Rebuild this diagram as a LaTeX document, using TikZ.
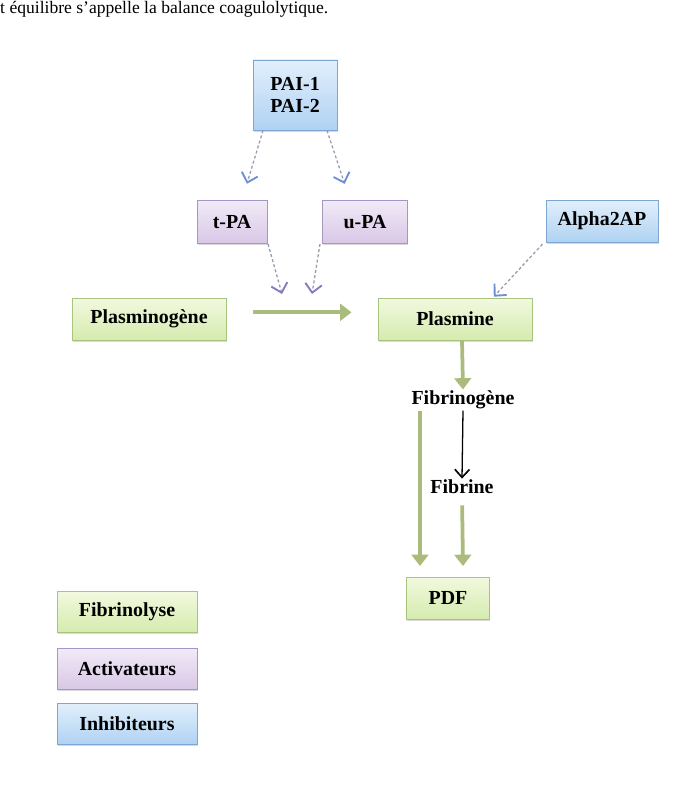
\documentclass[tikz,border=0pt]{standalone}
\usepackage{fontspec}
\setmainfont{Liberation Serif}
\usepackage{xcolor}
\usepackage{tikz}
\usetikzlibrary{
  arrows.meta,
  positioning,
  shadows,
  calc
}
\definecolor{FibTop}{HTML}{F2F9DF}
\definecolor{FibBottom}{HTML}{D5EBAE}
\definecolor{FibLine}{HTML}{A9C47E}
\definecolor{ActTop}{HTML}{F1EAF7}
\definecolor{ActBottom}{HTML}{D8C7E6}
\definecolor{ActLine}{HTML}{A696C2}
\definecolor{InhTop}{HTML}{E2EFFB}
\definecolor{InhBottom}{HTML}{AFD2F3}
\definecolor{InhLine}{HTML}{7EA6D2}
\definecolor{ArrowGreen}{HTML}{AABB7C}
\definecolor{DashGray}{HTML}{9A9AAE}
\definecolor{TipBlue}{HTML}{6F8FD3}
\definecolor{TipPurple}{HTML}{8878C2}
\tikzset{
  box/.style={
    draw,
    line width=0.8pt,
    align=center,
    font=\fontsize{17}{19}\selectfont\bfseries,
    inner sep=0pt,
    drop shadow={
      shadow xshift=0.8pt,
      shadow yshift=-1.5pt,
      opacity=0.3
    }
  },
  fibrino/.style={
    box,
    top color=FibTop,
    bottom color=FibBottom,
    draw=FibLine
  },
  activ/.style={
    box,
    top color=ActTop,
    bottom color=ActBottom,
    draw=ActLine
  },
  inhib/.style={
    box,
    top color=InhTop,
    bottom color=InhBottom,
    draw=InhLine
  },
  plain/.style={
    font=\fontsize{17}{19}\selectfont\bfseries,
    inner sep=1pt
  },
  convert/.style={
    -{Triangle[length=3.4mm,width=5mm]},
    line width=3.2pt,
    draw=ArrowGreen
  },
  inhibit/.style={
    -{Straight Barb[length=2.6mm,width=5mm,line width=1.6pt,color=TipBlue]},
    dash pattern=on 2.5pt off 2pt,
    line width=1.1pt,
    draw=DashGray
  },
  activate/.style={
    -{Straight Barb[length=2.6mm,width=5mm,line width=1.6pt,color=TipPurple]},
    dash pattern=on 2.5pt off 2pt,
    line width=1.1pt,
    draw=DashGray
  },
  reaction/.style={
    -{Straight Barb[length=2.4mm,width=4.4mm,line width=1.4pt]},
    line width=1.1pt
  }
}

\begin{document}
\begin{tikzpicture}[
  x=0.03cm,
  y=-0.03cm
]

  \useasboundingbox (0,0) rectangle (674,788);

  \node[
    anchor=west,
    inner sep=0pt,
    font=\fontsize{15}{17}\selectfont
  ] (intro) at (0,9) {t équilibre s’appelle la balance coagulolytique.};

  % inhibiteurs et activateurs
  \node[
    inhib,
    minimum width=84*0.03cm,
    minimum height=70*0.03cm
  ] (pai) at (295,95) {PAI-1\\PAI-2};

  \node[
    activ,
    minimum width=70*0.03cm,
    minimum height=43*0.03cm
  ] (tpa) at (232,222) {t-PA};

  \node[
    activ,
    minimum width=85*0.03cm,
    minimum height=43*0.03cm
  ] (upa) at (365,222) {u-PA};

  \node[
    inhib,
    minimum width=112*0.03cm,
    minimum height=42*0.03cm
  ] (alpha) at (602,221) {Alpha2AP};

  % fibrinolyse
  \node[
    fibrino,
    minimum width=154*0.03cm,
    minimum height=42*0.03cm
  ] (plasminogene) at (149,319) {Plasminogène};

  \node[
    fibrino,
    minimum width=154*0.03cm,
    minimum height=42*0.03cm
  ] (plasmine) at (455,319) {Plasmine};

  \node[plain] (fibrinogene) at (463,400) {Fibrinogène};

  \node[plain] (fibrine) at (462,487) {Fibrine};

  \node[
    fibrino,
    minimum width=83*0.03cm,
    minimum height=42*0.03cm
  ] (pdf) at (448,598) {PDF};

  \coordinate (tpaend) at (282,294);
  \coordinate (upaend) at (312,294);
  \coordinate (pdfleft) at (420,566);
  \coordinate (pdfright) at (463,566);

  \draw[convert,shorten <=27*0.03cm,shorten >=26*0.03cm]
  ([yshift=0.2cm]plasminogene.east) --
  ([yshift=0.2cm]plasmine.west);

  \draw[inhibit,shorten >=17*0.03cm]
  ([xshift=-32*0.03cm]pai.south) --
  ([xshift=10*0.03cm]tpa.north);

  \draw[inhibit,shorten >=17*0.03cm]
  ([xshift=32*0.03cm]pai.south) --
  ([xshift=-15*0.03cm]upa.north);

  \draw[activate]
  ([xshift=36*0.03cm]tpa.south) --
  (tpaend);

  \draw[activate]
  ([xshift=-45*0.03cm]upa.south) --
  (upaend);

  \draw[inhibit,shorten <=2pt,shorten >=1pt]
  ([xshift=-58*0.03cm]alpha.south) --
  ([xshift=38*0.03cm]plasmine.north);

  \draw[convert]
  ([xshift=7*0.03cm]plasmine.south) --
  (fibrinogene.north);

  \draw[reaction]
  (fibrinogene.south) --
  (fibrine.north);

  \draw[convert]
  (fibrinogene.south west -| pdfleft) --
  (pdfleft);

  \draw[convert,shorten <=0.3cm]
  (fibrine.south) --
  (pdfright);

  % legende
  \node[
    fibrino,
    minimum width=140*0.03cm,
    minimum height=41*0.03cm
  ] (legfib) at (127,612) {Fibrinolyse};

  \node[
    activ,
    minimum width=140*0.03cm,
    minimum height=41*0.03cm
  ] (legact) at (127,669) {Activateurs};

  \node[
    inhib,
    minimum width=140*0.03cm,
    minimum height=41*0.03cm
  ] (leginh) at (127,724) {Inhibiteurs};

\end{tikzpicture}
\end{document}
